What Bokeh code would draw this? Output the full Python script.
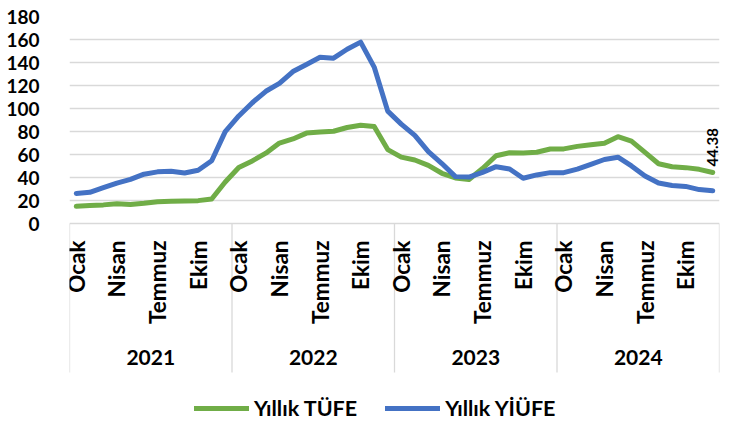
from math import pi
from bokeh.plotting import figure
from bokeh.models import Range1d, FixedTicker, Legend, LegendItem
from bokeh.core.properties import value
from bokeh.embed import file_html
from bokeh.resources import INLINE

years = ["2021", "2022", "2023", "2024"]
months = ["Ocak", "Şubat", "Mart", "Nisan", "Mayıs", "Haziran",
          "Temmuz", "Ağustos", "Eylül", "Ekim", "Kasım", "Aralık"]
shown_months = ["Ocak", "Nisan", "Temmuz", "Ekim"]

tufe = [14.97, 15.61, 16.19, 17.14, 16.59, 17.53, 18.95, 19.25, 19.58, 19.89, 21.31, 36.08,
        48.69, 54.44, 61.14, 69.97, 73.50, 78.62, 79.60, 80.21, 83.45, 85.51, 84.39, 64.27,
        57.68, 55.18, 50.51, 43.68, 39.59, 38.21, 47.83, 58.94, 61.53, 61.36, 61.98, 64.77,
        64.86, 67.07, 68.50, 69.80, 75.45, 71.60, 61.78, 51.97, 49.38, 48.58, 47.09, 44.38]
yiufe = [26.16, 27.09, 31.20, 35.17, 38.33, 42.89, 44.92, 45.52, 43.96, 46.31, 54.62, 79.89,
         93.53, 105.01, 114.97, 121.82, 132.16, 138.31, 144.61, 143.75, 151.50, 157.69, 136.02, 97.72,
         86.46, 76.61, 62.43, 52.11, 40.76, 40.42, 44.50, 49.41, 47.44, 39.39, 42.25, 44.22,
         44.20, 47.29, 51.47, 55.66, 57.68, 50.09, 41.37, 35.17, 33.09, 32.24, 29.47, 28.52]
series_names = ["Yıllık TÜFE", "Yıllık YİÜFE"]
y_ticks = [0, 20, 40, 60, 80, 100, 120, 140, 160, 180]

FONT = "Lato"
GREEN = "#70AD47"
BLUE = "#4472C4"
GRID = "#D9D9D9"

# layout (pixels)
FIG_W, FIG_H = 730, 424
B_LEFT, B_RIGHT, B_TOP = 69, 11, 16
BAND_H = 207        # height of the 0..180 value band
FRAME_H = FIG_H - B_TOP
SEP_LEN = 149       # year separator length below the zero line
MONTH_GAP = 17      # gap between zero line and month labels
YEAR_Y = 134        # year label centre below zero line

n = len(tufe)
x = list(range(n))
ymax = y_ticks[-1]
ppu = BAND_H / (ymax - y_ticks[0])
ymin = ymax - FRAME_H / ppu

p = figure(width=FIG_W, height=FIG_H,
           x_range=Range1d(-0.5, n - 0.5), y_range=Range1d(ymin, ymax),
           x_axis_type=None,
           output_backend="svg", toolbar_location=None,
           min_border_left=B_LEFT, min_border_right=B_RIGHT, min_border_top=B_TOP,
           min_border_bottom=0)
p.outline_line_color = None
p.ygrid.ticker = FixedTicker(ticks=y_ticks)
p.ygrid.grid_line_color = GRID
p.ygrid.grid_line_width = 1.3

ya = p.yaxis[0]
ya.ticker = FixedTicker(ticks=y_ticks)
ya.axis_line_color = None
ya.major_tick_line_color = None
ya.minor_tick_line_color = None
ya.major_label_standoff = 24
ya.major_label_text_font = FONT
ya.major_label_text_font_style = "bold"
ya.major_label_text_font_size = "19px"
ya.major_label_text_color = "black"

# year separators below the zero line
seps = [k * 12 - 0.5 for k in range(len(years) + 1)]
p.segment(x0=seps, y0=[y_ticks[0]] * len(seps), x1=seps,
          y1=[y_ticks[0] - SEP_LEN / ppu] * len(seps),
          line_color=GRID, line_width=1.3)

# month labels
month_ticks = [i for i in x if months[i % 12] in shown_months]
p.text(x=month_ticks, y=[y_ticks[0]] * len(month_ticks),
       text=[months[i % 12] for i in month_ticks],
       angle=pi / 2, text_align="right", text_baseline="middle", y_offset=MONTH_GAP,
       text_font=value(FONT), text_font_style="bold", text_font_size="22.5px",
       text_color="black")

# year labels
year_x = [k * 12 + 5.5 for k in range(len(years))]
p.text(x=year_x, y=[y_ticks[0]] * len(years), text=years,
       text_align="center", text_baseline="middle", y_offset=YEAR_Y,
       text_font=value(FONT), text_font_style="bold", text_font_size="21px",
       text_color="black")

r1 = p.line(x, tufe, line_width=5, color=GREEN, line_cap="round", line_join="round")
r2 = p.line(x, yiufe, line_width=5, color=BLUE, line_cap="round", line_join="round")

p.text(x=[x[-1]], y=[tufe[-1]], text=[f"{tufe[-1]:.2f}"], angle=pi / 2,
       text_align="left", text_baseline="middle", y_offset=-6,
       text_font=value(FONT), text_font_style="bold", text_font_size="15px",
       text_color="black")

legend = Legend(items=[LegendItem(label=series_names[0], renderers=[r1]),
                       LegendItem(label=series_names[1], renderers=[r2])],
                orientation="horizontal", location=(125, 3),
                margin=0, padding=0, spacing=28, label_standoff=5,
                glyph_width=55, glyph_height=20,
                border_line_color=None, background_fill_alpha=0,
                label_text_font=FONT, label_text_font_style="bold",
                label_text_font_size="21.5px", label_text_color="black")
p.add_layout(legend, "center")

open("out.html", "w").write(file_html(p, INLINE))
